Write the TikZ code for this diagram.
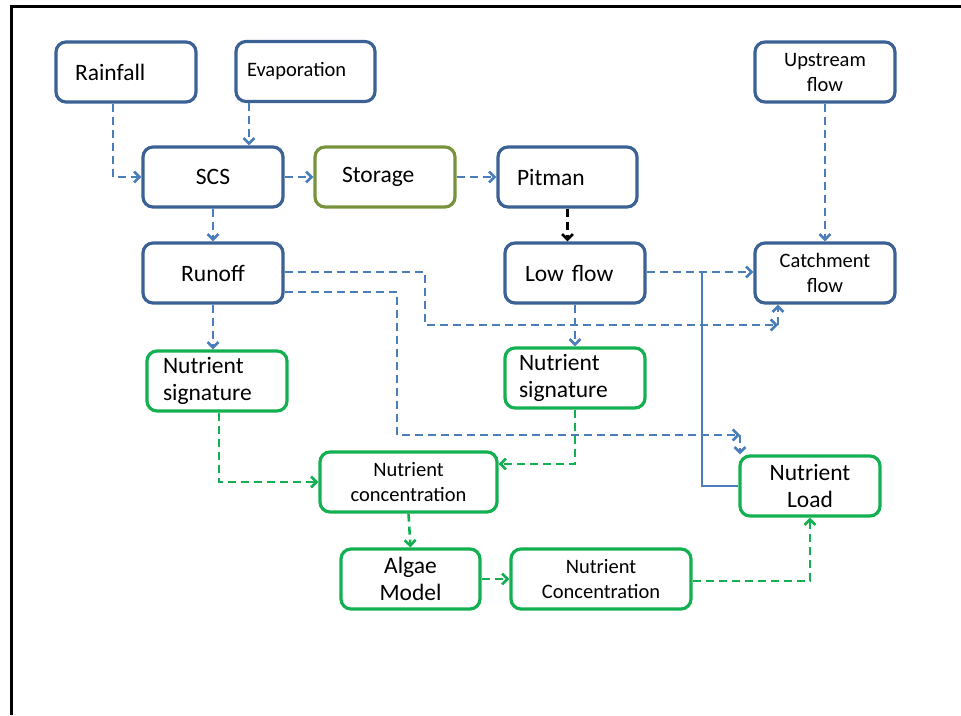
\documentclass[tikz,border=0pt]{standalone}
\usepackage{fontspec}
\setmainfont{Carlito}
\usetikzlibrary{arrows.meta}
\definecolor{boxblue}{HTML}{3B6195}
\definecolor{flowblue}{HTML}{4A7EBB}
\definecolor{boxgreen}{HTML}{12B050}
\definecolor{olive}{HTML}{77933C}
\tikzset{
  big/.style={font=\fontsize{23.5}{27.5}\selectfont},
  small/.style={font=\fontsize{20.5}{25}\selectfont},
  box/.style={draw=boxblue, rounded corners=10pt, line width=3.2pt,
    minimum height=60pt, minimum width=140pt, inner xsep=4pt, inner ysep=2pt, align=center},
  gbox/.style={box, draw=boxgreen},
  obox/.style={box, draw=olive},
  lpad/.style 2 args={inner xsep=#1, text width=#2, align=left},
  flow/.style={draw=flowblue, line width=2.6pt, dash pattern=on 8pt off 5pt,
    -{Straight Barb[length=5.5pt,width=11pt]}},
  gflow/.style={flow, draw=boxgreen},
  kflow/.style={flow, draw=black},
  solidline/.style={draw=flowblue, line width=1.8pt}
}
\begin{document}
\begin{tikzpicture}[x=1pt,y=-1pt]
\useasboundingbox (0,0) rectangle (961,715);
\draw[line width=3pt] (11,715) -- (11,6) -- (961,6);

\node[box,big,lpad={19pt}{102pt}] (rain) at (126,72) {Rainfall};
\node[box,small,minimum width=139pt,lpad={11pt}{117pt}] (evap) at (305.5,71.5) {Evaporation};
\node[box,big] (scs) at (213,177) {SCS};
\node[obox,big,lpad={27pt}{86pt}] (stor) at (385,177) {Storage};
\node[box,big,minimum width=139pt,lpad={19pt}{101pt}] (pit) at (567.5,177) {Pitman};
\node[box,small] (up) at (825,72) {Upstream\\flow};
\node[box,big] (run) at (213,273) {Runoff};
\node[box,big,lpad={20pt}{100pt}] (low) at (575,273) {Low flow};
\node[box,small] (catch) at (825,273) {Catchment\\flow};
\node[gbox,big,lpad={16pt}{108pt}] (sig1) at (217,381) {Nutrient\\signature};
\node[gbox,big,lpad={14pt}{112pt}] (sig2) at (575,378) {Nutrient\\signature};
\node[gbox,small,minimum width=177pt] (conc) at (408.5,482) {Nutrient\\concentration};
\node[gbox,big,minimum width=139pt] (alg) at (410.5,579) {Algae\\Model};
\node[gbox,small,minimum width=180pt] (conc2) at (601,579) {Nutrient\\Concentration};
\node[gbox,big] (load) at (810,486) {Nutrient\\Load};

\coordinate (k1a) at (425,325);
\coordinate (c1) at (778,325);
\coordinate (k2a) at (397,435);
\coordinate (c2) at (740,435);
\coordinate (j) at (702,272);

% blue flows
\draw[flow] ([xshift=-13pt]rain.south) |- (scs.west);
\draw[flow] ([xshift=-56.5pt]evap.south) -- ([xshift=-56.5pt]evap.south |- scs.north);
\draw[flow] (scs.east) -- (stor.west);
\draw[flow] (stor.east) -- (pit.west);
\draw[kflow] (pit.south) -- (pit.south |- low.north);
\draw[flow] (scs.south) -- (run.north);
\draw[flow] (run.south) -- (run.south |- sig1.north);
\draw[flow] ([yshift=1pt]run.east) -| (k1a) -- (c1);
\draw[flow] (c1) -- (c1 |- catch.south);
\draw[flow] ([yshift=-19pt]run.east) -| (k2a) -- (c2);
\draw[flow] (c2) -- (c2 |- load.north);
\draw[flow] ([yshift=1pt]low.east) -- ([yshift=1pt]low.east -| catch.west);
\draw[flow] (up.south) -- (catch.north);
\draw[flow] (low.south) -- (sig2.north);
\draw[solidline] (j) |- (load.west);

% green flows
\draw[gflow] ([xshift=2pt]sig1.south) |- (conc.west);
\draw[gflow] (sig2.south) |- ([yshift=18pt]conc.east);
\draw[gflow] (conc.south) -- (alg.north);
\draw[gflow] (alg.east) -- (conc2.west);
\draw[gflow] ([yshift=-2pt]conc2.east) -| (load.south);
\end{tikzpicture}
\end{document}
